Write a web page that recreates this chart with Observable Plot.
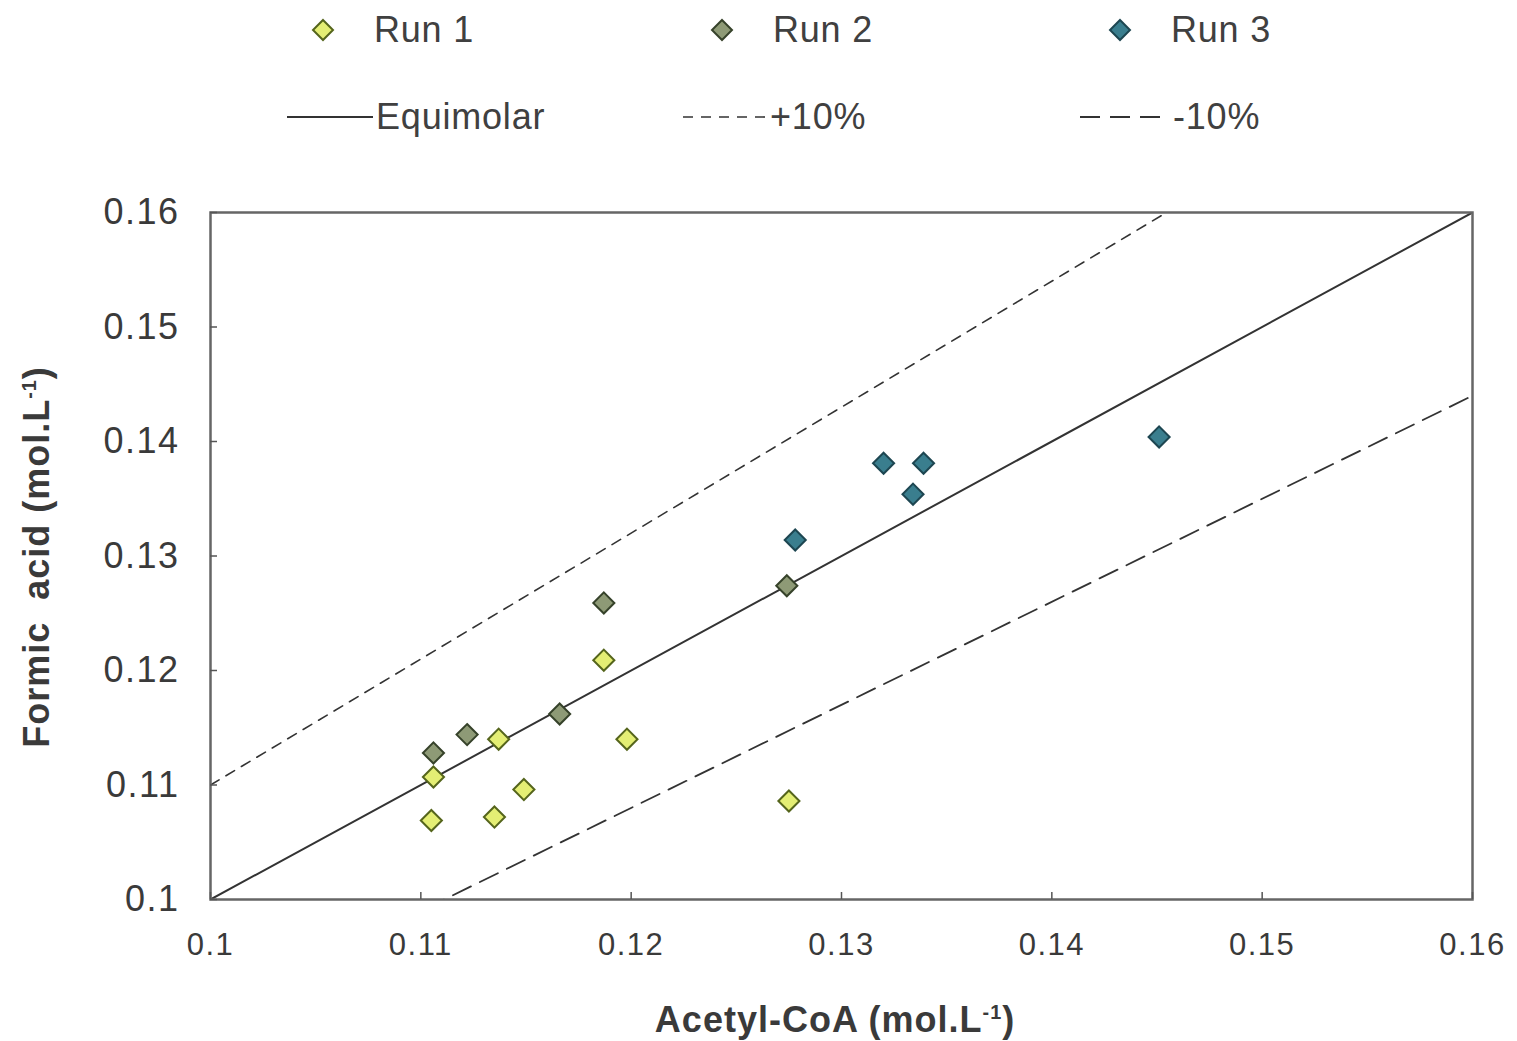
<!DOCTYPE html>
<html>
<head>
<meta charset="utf-8">
<script src="https://cdn.jsdelivr.net/npm/d3@7"></script>
<script src="https://cdn.jsdelivr.net/npm/@observablehq/plot@0.6"></script>
<style>
  html, body { margin: 0; padding: 0; background: #fff; }
  body { width: 1517px; height: 1041px; position: relative; font-family: "Liberation Sans", Arial, sans-serif; }
  #legend { position: absolute; left: 0; top: 0; width: 1517px; height: 160px; }
  .item { position: absolute; display: flex; align-items: center; font-size: 36px; letter-spacing: 0.8px; color: #404040; }
  .item svg { display: block; }
  #chart { position: absolute; left: 0; top: 160px; }
  #ylab { position: absolute; left: 37px; top: 557px; transform: translate(-50%, -50%) rotate(-90deg); font-weight: bold; font-size: 36px; letter-spacing: 1px; color: #3a3a3a; white-space: nowrap; }
  #xlab { position: absolute; left: 835px; top: 1020px; transform: translate(-50%, -50%); font-weight: bold; font-size: 36px; letter-spacing: 1px; color: #3a3a3a; white-space: nowrap; }
  sup { font-size: 55%; }
</style>
</head>
<body>
<div id="legend"></div>
<div id="chart"></div>
<div id="ylab">Formic&nbsp; acid (mol.L<sup>-1</sup>)</div>
<div id="xlab">Acetyl-CoA (mol.L<sup>-1</sup>)</div>
<script>
// Data
const run1X = [0.1105, 0.1135, 0.1149, 0.1106, 0.1187, 0.1198, 0.1275, 0.1137];
const run1Y = [0.1069, 0.1072, 0.1096, 0.1107, 0.1209, 0.1140, 0.1086, 0.1140];
const run2X = [0.1106, 0.1122, 0.1166, 0.1187, 0.1274];
const run2Y = [0.1128, 0.1144, 0.1162, 0.1259, 0.1274];
const run3X = [0.1278, 0.1320, 0.1339, 0.1334, 0.1451];
const run3Y = [0.1314, 0.1381, 0.1381, 0.1354, 0.1404];
const ticks = [0.1, 0.11, 0.12, 0.13, 0.14, 0.15, 0.16];
const lineX = [0.1, 0.16];
const refLines = [
  {name: "Equimolar", factor: 1.0, dash: null, width: 2},
  {name: "+10%", factor: 1.1, dash: "10,8", width: 1.6},
  {name: "-10%", factor: 0.9, dash: "20,10", width: 1.8}
];
const runs = [
  {name: "Run 1", xs: run1X, ys: run1Y, fill: "#e4ee74", stroke: "#55651c"},
  {name: "Run 2", xs: run2X, ys: run2Y, fill: "#8e9a76", stroke: "#36422a"},
  {name: "Run 3", xs: run3X, ys: run3Y, fill: "#3a7e8e", stroke: "#1d4651"}
];

const points = runs.flatMap(r => r.xs.map((x, i) => ({run: r.name, x, y: r.ys[i], fill: r.fill, stroke: r.stroke})));
const lines = refLines.flatMap(l => lineX.map(x => ({name: l.name, x, y: x * l.factor})));
const fmt = d => String(+d.toFixed(2));

const chart = Plot.plot({
  width: 1517,
  height: 881,
  marginLeft: 210,
  marginRight: 45,
  marginTop: 52,
  marginBottom: 142,
  x: {domain: [0.1, 0.16], label: null},
  y: {domain: [0.1, 0.16], label: null},
  style: {fontFamily: "Liberation Sans, Arial, sans-serif", background: "#fff", letterSpacing: "1.5px"},
  marks: [
    ...refLines.map(l => Plot.line(lines.filter(d => d.name === l.name), {
      x: "x", y: "y", stroke: "#333", strokeWidth: l.width, strokeDasharray: l.dash, clip: true
    })),
    Plot.dot(points, {x: "x", y: "y", symbol: "diamond2", r: 9.5, fill: "fill", stroke: "stroke", strokeWidth: 2}),
    Plot.frame({stroke: "#666", strokeWidth: 2.5}),
    Plot.axisX({ticks, tickSize: -7, stroke: "#555", strokeWidth: 1.5, text: null, label: null}),
    Plot.axisX({ticks, tickSize: 0, tickPadding: 33, tickFormat: fmt, fontSize: 31, fill: "#3a3a3a", label: null}),
    Plot.axisY({ticks, tickSize: -7, stroke: "#555", strokeWidth: 1.5, text: null, label: null}),
    Plot.axisY({ticks, tickSize: 0, tickPadding: 31, tickFormat: fmt, fontSize: 36, fill: "#3a3a3a", label: null})
  ]
});
document.getElementById("chart").appendChild(chart);

// Legend
const legend = document.getElementById("legend");
const ns = "http://www.w3.org/2000/svg";
const runPos = [{left: 310, top: 30}, {left: 709, top: 30}, {left: 1107, top: 30}];
runs.forEach((r, i) => {
  const div = document.createElement("div");
  div.className = "item";
  div.style.left = runPos[i].left + "px";
  div.style.top = (runPos[i].top - 22) + "px";
  const svg = document.createElementNS(ns, "svg");
  svg.setAttribute("width", 26); svg.setAttribute("height", 44);
  const p = document.createElementNS(ns, "path");
  p.setAttribute("d", d3.symbol(d3.symbolDiamond2, Math.PI * 81)());
  p.setAttribute("transform", "translate(13,22)");
  p.setAttribute("fill", r.fill); p.setAttribute("stroke", r.stroke); p.setAttribute("stroke-width", 2);
  svg.appendChild(p);
  div.appendChild(svg);
  const s = document.createElement("span");
  s.textContent = r.name; s.style.marginLeft = "38px";
  div.appendChild(s);
  legend.appendChild(div);
});
const linePos = [{left: 287, w: 86}, {left: 683, w: 84}, {left: 1080, w: 90}];
refLines.forEach((l, i) => {
  const div = document.createElement("div");
  div.className = "item";
  div.style.left = linePos[i].left + "px";
  div.style.top = (117 - 22) + "px";
  const svg = document.createElementNS(ns, "svg");
  svg.setAttribute("width", linePos[i].w); svg.setAttribute("height", 44);
  const ln = document.createElementNS(ns, "line");
  ln.setAttribute("x1", 0); ln.setAttribute("x2", linePos[i].w);
  ln.setAttribute("y1", 22); ln.setAttribute("y2", 22);
  ln.setAttribute("stroke", "#333"); ln.setAttribute("stroke-width", l.width);
  if (l.dash) ln.setAttribute("stroke-dasharray", l.dash);
  svg.appendChild(ln);
  div.appendChild(svg);
  const s = document.createElement("span");
  s.textContent = l.name; s.style.marginLeft = "3px";
  div.appendChild(s);
  legend.appendChild(div);
});
</script>
</body>
</html>
